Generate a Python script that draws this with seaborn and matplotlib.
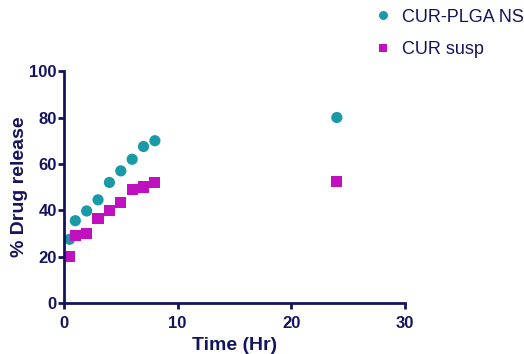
import pandas as pd
import matplotlib.pyplot as plt
import seaborn as sns

time_hr = [0.5, 1, 2, 3, 4, 5, 6, 7, 8, 24]
plga_ns = [27.5, 35.5, 39.7, 44.5, 52, 57, 62, 67.5, 70, 80]
cur_susp = [20, 29, 30, 36.5, 40, 43.5, 49, 50, 52, 52.5]

navy = '#14145e'
df = pd.DataFrame({
    'Time': time_hr * 2,
    'Release': plga_ns + cur_susp,
    'Formulation': ['CUR-PLGA NS'] * len(time_hr) + ['CUR susp'] * len(time_hr),
})

sns.set_style('ticks')
plt.rcParams['font.family'] = ['Liberation Sans', 'DejaVu Sans']

fig = plt.figure(figsize=(5.24, 3.54), dpi=100)
ax = fig.add_axes([0.122, 0.144, 0.651, 0.655])
sns.scatterplot(data=df, x='Time', y='Release', hue='Formulation', style='Formulation',
                palette={'CUR-PLGA NS': '#1a9aa6', 'CUR susp': '#c010c0'},
                markers={'CUR-PLGA NS': 'o', 'CUR susp': 's'},
                s=65, linewidth=0, ax=ax, clip_on=False)

ax.set_xlim(0, 30)
ax.set_ylim(0, 100)
ax.set_xticks([0, 10, 20, 30])
ax.set_yticks([0, 20, 40, 60, 80, 100])
ax.set_xlabel('Time (Hr)', fontsize=14, fontweight='bold', color=navy, labelpad=5)
ax.set_ylabel('% Drug release', fontsize=14, fontweight='bold', color=navy, labelpad=1)
for lab in ax.get_xticklabels() + ax.get_yticklabels():
    lab.set_fontweight('bold')
ax.tick_params(colors=navy, labelsize=12, width=2, length=4, pad=1)
ax.tick_params(axis='x', pad=5)
for side in ['left', 'bottom']:
    ax.spines[side].set_color(navy)
    ax.spines[side].set_linewidth(2)
sns.despine(ax=ax)

leg = ax.legend(loc='upper left', bbox_to_anchor=(0.835, 1.34), frameon=False,
                fontsize=13, handletextpad=0.05, labelspacing=0.85, markerscale=0.8)
for t in leg.get_texts():
    t.set_color(navy)

fig.savefig('out.png', dpi=100)
